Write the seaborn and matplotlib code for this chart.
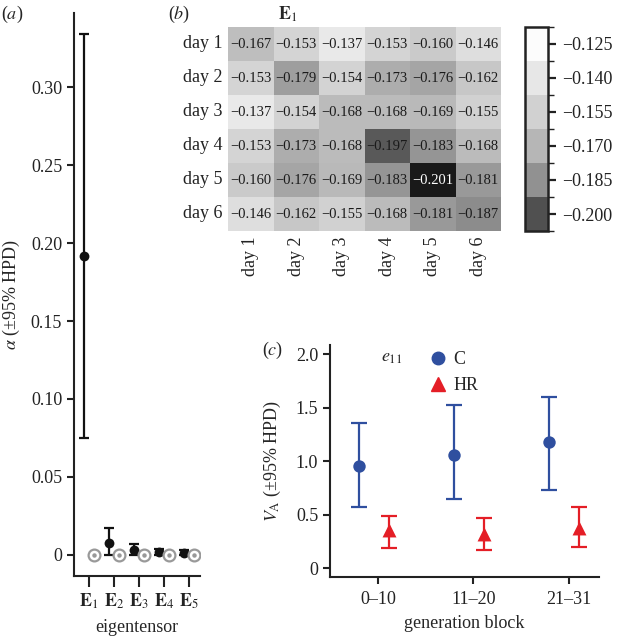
import numpy as np
import pandas as pd
import matplotlib
matplotlib.use("Agg")
import matplotlib.pyplot as plt
import seaborn as sns
from matplotlib.colors import LinearSegmentedColormap, ListedColormap, BoundaryNorm
from matplotlib.lines import Line2D
import matplotlib.colorbar as mcolorbar

# ---------------- data ----------------
eig_labels = [r"$\mathbf{E}_1$", r"$\mathbf{E}_2$", r"$\mathbf{E}_3$", r"$\mathbf{E}_4$", r"$\mathbf{E}_5$"]
alpha_mean = [0.192, 0.0075, 0.003, 0.002, 0.001]
alpha_low = [0.075, 0.0, 0.0, 0.0, 0.0]
alpha_high = [0.334, 0.0173, 0.007, 0.004, 0.003]
alpha_null = [0.0, 0.0, 0.0, 0.0, 0.0]

days = ["day 1", "day 2", "day 3", "day 4", "day 5", "day 6"]
e1_matrix = [
    [-0.167, -0.153, -0.137, -0.153, -0.160, -0.146],
    [-0.153, -0.179, -0.154, -0.173, -0.176, -0.162],
    [-0.137, -0.154, -0.168, -0.168, -0.169, -0.155],
    [-0.153, -0.173, -0.168, -0.197, -0.183, -0.168],
    [-0.160, -0.176, -0.169, -0.183, -0.201, -0.181],
    [-0.146, -0.162, -0.155, -0.168, -0.181, -0.187],
]
cbar_ticks = [-0.125, -0.140, -0.155, -0.170, -0.185, -0.200]

blocks = ["0\u201310", "11\u201320", "21\u201331"]
c_mean = [0.953, 1.053, 1.178]
c_low = [0.566, 0.647, 0.728]
c_high = [1.353, 1.525, 1.597]
hr_mean = [0.353, 0.316, 0.372]
hr_low = [0.184, 0.166, 0.200]
hr_high = [0.490, 0.472, 0.569]

# ---------------- style ----------------
sns.set_theme(style="ticks")
plt.rcParams["font.family"] = ["Liberation Serif", "DejaVu Serif"]
plt.rcParams["mathtext.fontset"] = "stix"
plt.rcParams["axes.linewidth"] = 1.5
plt.rcParams["xtick.major.width"] = 1.5
plt.rcParams["ytick.major.width"] = 1.5
plt.rcParams["xtick.major.size"] = 5
plt.rcParams["ytick.major.size"] = 5
plt.rcParams["xtick.color"] = "#222222"
plt.rcParams["ytick.color"] = "#222222"
plt.rcParams["axes.edgecolor"] = "#222222"

W, H = 621, 639
FS = 13
PM = "\u00b1"
fig = plt.figure(figsize=(W / 100, H / 100), dpi=100)

def px_axes(x0, y0, x1, y1):
    return fig.add_axes([x0 / W, 1 - y1 / H, (x1 - x0) / W, (y1 - y0) / H])

# ---------------- panel (a) ----------------
axa = px_axes(74, 13, 200, 576)
xs = np.arange(len(eig_labels))
dfa = pd.DataFrame({"x": xs - 0.2, "mean": alpha_mean, "xn": xs + 0.2, "null": alpha_null})
yerr = [np.array(alpha_mean) - np.array(alpha_low), np.array(alpha_high) - np.array(alpha_mean)]
axa.errorbar(dfa["x"], dfa["mean"], yerr=yerr, fmt="none", ecolor="#111111",
             elinewidth=1.6, capsize=3.5, capthick=1.6, zorder=2)
sns.scatterplot(data=dfa, x="x", y="mean", ax=axa, color="#111111", s=50,
                edgecolor="#111111", linewidth=0, zorder=3, legend=False)
axa.plot(dfa["xn"], dfa["null"], "o", ms=8.5, mfc="white", mec="#999999", mew=1.6, zorder=3)
axa.plot(dfa["xn"], dfa["null"], "o", ms=2.2, color="#999999", zorder=4)
axa.set_xlim(-0.6, 4.45)
axa.set_ylim(-0.0135, 0.3475)
axa.set_xticks(xs)
axa.set_xticklabels(eig_labels, fontsize=FS)
axa.set_yticks([0, 0.05, 0.10, 0.15, 0.20, 0.25, 0.30])
axa.set_yticklabels(["0", "0.05", "0.10", "0.15", "0.20", "0.25", "0.30"], fontsize=FS)
axa.set_xlabel("eigentensor", fontsize=FS, labelpad=6)
axa.set_ylabel(r"$\alpha$ (" + PM + "95% HPD)", fontsize=FS, labelpad=6)
sns.despine(ax=axa)
axa.tick_params(axis="x", length=8, pad=3)
fig.text(1 / W, 1 - 14 / H, r"($a$)", fontsize=FS, va="center", ha="left")

# ---------------- panel (b) ----------------
axb = px_axes(228, 27, 501, 231)
mat = np.array(e1_matrix)
dfb = pd.DataFrame(mat, index=days, columns=days)
vmin, vmax = -0.205, -0.125
nodes = [(-0.205, 0.06), (-0.201, 0.10), (-0.197, 0.36), (-0.187, 0.55), (-0.181, 0.60),
         (-0.173, 0.68), (-0.167, 0.745), (-0.160, 0.795), (-0.153, 0.83), (-0.146, 0.87),
         (-0.137, 0.915), (-0.125, 0.98)]
cmap = LinearSegmentedColormap.from_list(
    "grays_custom", [((v - vmin) / (vmax - vmin), (g, g, g)) for v, g in nodes])
annot = np.vectorize(lambda v: f"{v:.3f}".replace("-", "\u2212"))(mat)
sns.heatmap(dfb, ax=axb, cmap=cmap, vmin=vmin, vmax=vmax, annot=annot, fmt="",
            cbar=False, annot_kws={"fontsize": 10.5, "color": "#1a1a1a"}, linewidths=0)
for t, v in zip(axb.texts, mat.flatten()):
    if v < -0.2:
        t.set_color("white")
axb.set_xticklabels(days, rotation=90, fontsize=FS)
axb.set_yticklabels(days, rotation=0, fontsize=FS)
axb.tick_params(length=0, pad=4)
axb.set_xlabel("")
axb.set_ylabel("")
fig.text(288 / W, 1 - 14 / H, r"$\mathbf{E}_1$", fontsize=FS, va="center", ha="center")
fig.text(168 / W, 1 - 14 / H, r"($b$)", fontsize=FS, va="center", ha="left")

# discrete colorbar
axcb = px_axes(525, 27, 548, 231)
band_grays = ["#505050", "#919191", "#b6b6b6", "#d1d1d1", "#e7e7e7", "#fcfcfc"]
bounds = [-0.2075, -0.1925, -0.1775, -0.1625, -0.1475, -0.1325, -0.1175]
cb = mcolorbar.ColorbarBase(axcb, cmap=ListedColormap(band_grays),
                            norm=BoundaryNorm(bounds, len(band_grays)),
                            ticks=cbar_ticks, orientation="vertical")
cb.ax.set_yticklabels([f"{t:.3f}".replace("-", "\u2212") for t in cbar_ticks], fontsize=FS)
cb.outline.set_linewidth(1.8)
cb.outline.set_edgecolor("#222222")
cb.ax.tick_params(length=6, width=1.6, pad=4)

# ---------------- panel (c) ----------------
axc = px_axes(330, 345, 599, 577)
xb = np.arange(len(blocks))
blue = "#2f4f9f"
red = "#e41e26"
dfc = pd.DataFrame({"x": xb - 0.2, "mean": c_mean})
dfh = pd.DataFrame({"x": xb + 0.11, "mean": hr_mean})
axc.errorbar(dfc["x"], c_mean,
             yerr=[np.array(c_mean) - np.array(c_low), np.array(c_high) - np.array(c_mean)],
             fmt="none", ecolor=blue, elinewidth=1.6, capsize=5.5, capthick=1.6, zorder=2)
axc.errorbar(dfh["x"], hr_mean,
             yerr=[np.array(hr_mean) - np.array(hr_low), np.array(hr_high) - np.array(hr_mean)],
             fmt="none", ecolor=red, elinewidth=1.6, capsize=5.5, capthick=1.6, zorder=2)
sns.scatterplot(data=dfc, x="x", y="mean", ax=axc, color=blue, marker="o", s=80,
                linewidth=0, zorder=3, legend=False)
sns.scatterplot(data=dfh, x="x", y="mean", ax=axc, color=red, marker="^", s=100,
                linewidth=0, zorder=3, legend=False)
axc.set_xlim(-0.505, 2.32)
axc.set_ylim(-0.084, 2.085)
axc.set_xticks(xb)
axc.set_xticklabels(blocks, fontsize=FS)
axc.set_yticks([0, 0.5, 1.0, 1.5, 2.0])
axc.set_yticklabels(["0", "0.5", "1.0", "1.5", "2.0"], fontsize=FS)
axc.tick_params(axis="x", pad=5)
axc.set_xlabel("generation block", fontsize=FS, labelpad=5)
axc.set_ylabel(r"$V_{\mathrm{A}}$ (" + PM + "95% HPD)", fontsize=FS, labelpad=9)
sns.despine(ax=axc)
handles = [Line2D([], [], marker="o", color=blue, ls="none", ms=9),
           Line2D([], [], marker="^", color=red, ls="none", ms=10)]
axc.legend(handles, ["C", "HR"], frameon=False, loc="upper left",
           bbox_to_anchor=(0.325, 1.005), fontsize=FS, handletextpad=0.1,
           labelspacing=0.5, handlelength=1.5, borderaxespad=0)
axc.text(0.23, 0.945, r"$e_{11}$", transform=axc.transAxes, fontsize=FS, ha="center", va="center")
fig.text(262 / W, 1 - 350 / H, r"($c$)", fontsize=FS, va="center", ha="left")

fig.savefig("out.png", dpi=100)
